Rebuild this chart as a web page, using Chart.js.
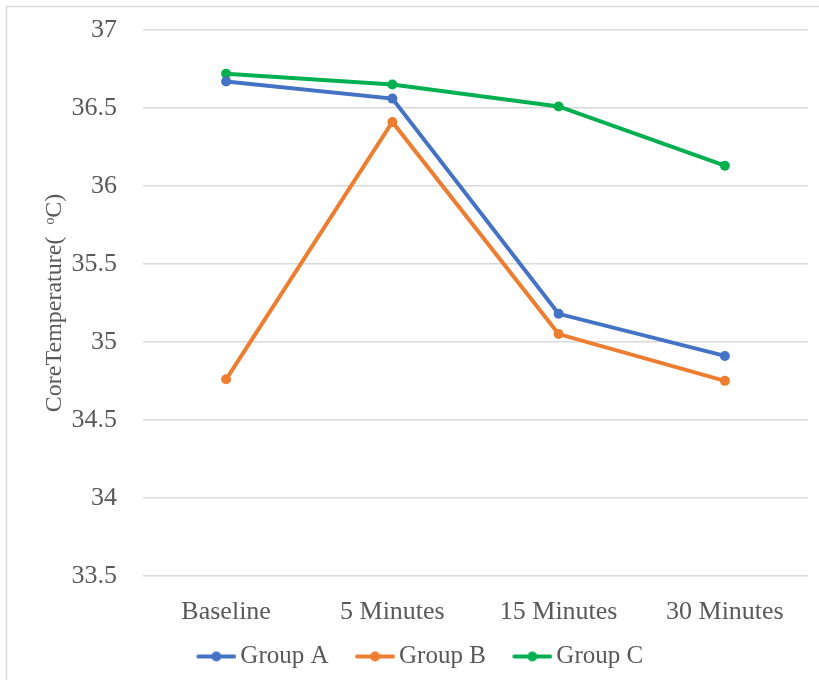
<!DOCTYPE html>
<html>
<head>
<meta charset="utf-8">
<script src="https://cdn.jsdelivr.net/npm/chart.js@4/dist/chart.umd.min.js"></script>
<style>
  html, body { margin: 0; padding: 0; background: #fff; }
  #wrap { position: relative; width: 819px; height: 680px; }
</style>
</head>
<body>
<div id="wrap"><canvas id="c" width="819" height="680"></canvas></div>
<script>
// Time points and core temperature readings (°C) for each group
const categories = ['Baseline', '5 Minutes', '15 Minutes', '30 Minutes'];
const groupA = [36.67, 36.56, 35.18, 34.91];
const groupB = [34.76, 36.41, 35.05, 34.75];
const groupC = [36.72, 36.65, 36.51, 36.13];
const seriesNames = ['Group A', 'Group B', 'Group C'];
const seriesColors = ['#4472C4', '#ED7D31', '#00B050'];
const yTicks = [33.5, 34, 34.5, 35, 35.5, 36, 36.5, 37];

const FONT = '"Liberation Serif", "Times New Roman", serif';
const TEXT = '#595959';

// line-with-marker legend symbol; left half of the canvas is transparent so
// the visible swatch sits just before the label text
function swatch(color) {
  const cv = document.createElement('canvas');
  cv.width = 72; cv.height = 12;
  const g = cv.getContext('2d');
  g.strokeStyle = color; g.lineWidth = 4; g.lineCap = 'round';
  g.beginPath(); g.moveTo(34, 6); g.lineTo(70, 6); g.stroke();
  g.fillStyle = color;
  g.beginPath(); g.arc(52, 6, 5, 0, Math.PI * 2); g.fill();
  return cv;
}

// thin frame along the top and left edges of the chart panel
const framePlugin = {
  id: 'frame',
  beforeDraw(chart) {
    const ctx = chart.ctx;
    ctx.save();
    ctx.strokeStyle = '#D9D9D9';
    ctx.lineWidth = 1.5;
    ctx.beginPath();
    ctx.moveTo(6.5, 680); ctx.lineTo(6.5, 6.5); ctx.lineTo(819, 6.5);
    ctx.stroke();
    ctx.restore();
  }
};

// nudge the legend row closer to the axis labels and slightly left
const legendNudge = {
  id: 'legendNudge',
  afterLayout(chart) {
    const lg = chart.legend;
    if (!lg) return;
    const dx = -14, dy = -8;
    lg.left += dx; lg.right += dx;
    lg.top += dy; lg.bottom += dy;
  }
};

const values = [groupA, groupB, groupC];
const datasets = seriesNames.map((name, i) => ({
  label: name,
  data: values[i],
  borderColor: seriesColors[i],
  backgroundColor: seriesColors[i],
  borderWidth: 4,
  pointRadius: 5,
  pointHoverRadius: 5,
  pointBorderWidth: 0,
  pointStyle: 'circle',
  tension: 0,
  fill: false
}));
const legendImgs = seriesColors.map(swatch);

new Chart(document.getElementById('c'), {
  type: 'line',
  data: { labels: categories, datasets },
  plugins: [framePlugin, legendNudge],
  options: {
    responsive: false,
    animation: false,
    layout: { padding: { left: 36, right: 11, top: 30, bottom: -7 } },
    scales: {
      x: {
        offset: true,
        grid: { display: false, drawTicks: false },
        border: { display: false },
        ticks: { color: TEXT, font: { family: FONT, size: 26 }, padding: 21, maxRotation: 0 }
      },
      y: {
        min: 33.5,
        max: 37,
        afterBuildTicks(scale) { scale.ticks = yTicks.map(v => ({ value: v })); },
        afterFit(scale) {
          scale.width = 107;
          scale.paddingTop = 0;
          scale.paddingBottom = 0;
        },
        grid: { color: '#D9D9D9', lineWidth: 1.5, drawTicks: false },
        border: { display: false },
        ticks: { color: TEXT, font: { family: FONT, size: 26 }, padding: 26,
                 callback: v => String(v) },
        title: {
          display: true,
          text: 'CoreTemperature(  ᵒC)',
          color: TEXT,
          font: { family: FONT, size: 24 },
          padding: { top: 4, bottom: 0 }
        }
      }
    },
    plugins: {
      legend: {
        position: 'bottom',
        labels: {
          color: TEXT,
          font: { family: FONT, size: 25 },
          usePointStyle: true,
          pointStyleWidth: 55,
          padding: 3,
          generateLabels(chart) {
            return chart.data.datasets.map((ds, i) => ({
              text: ds.label,
              pointStyle: legendImgs[i],
              fillStyle: ds.borderColor,
              strokeStyle: ds.borderColor,
              lineWidth: 0,
              fontColor: TEXT,
              hidden: false,
              datasetIndex: i
            }));
          }
        }
      },
      tooltip: { enabled: false }
    }
  }
});
</script>
</body>
</html>
